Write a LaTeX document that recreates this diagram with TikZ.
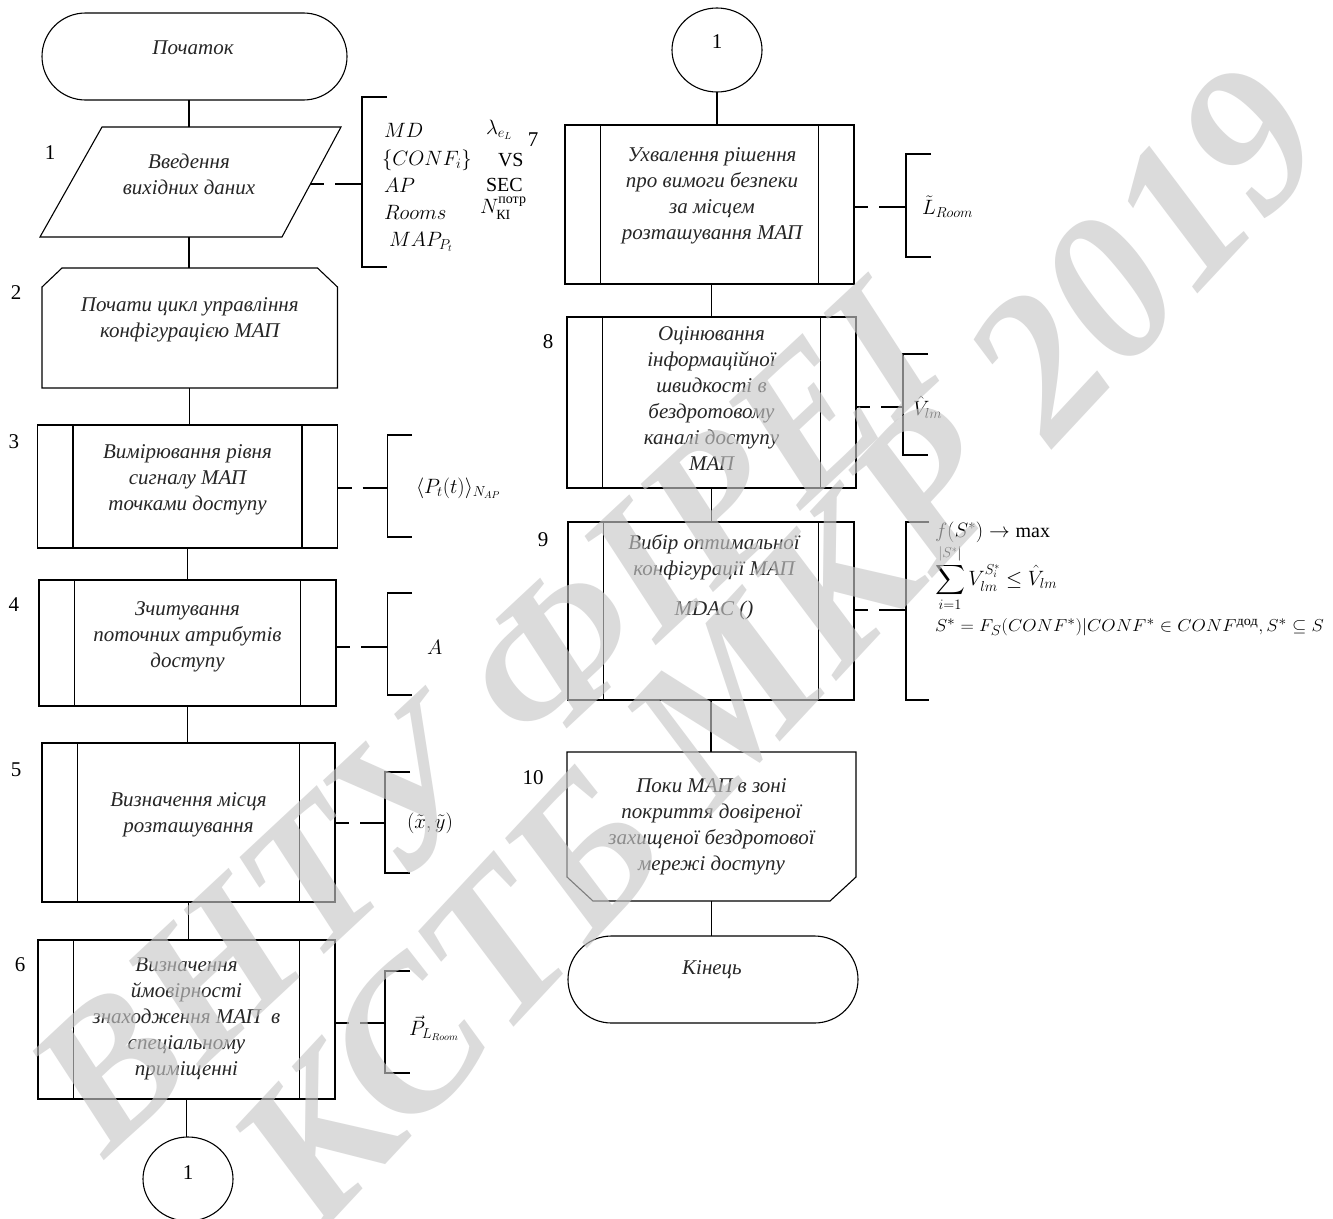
\documentclass[tikz,border=0pt]{standalone}
\usepackage{amsmath}
\usepackage{fontspec}
\setmainfont{Liberation Serif}
\usetikzlibrary{calc,shapes.geometric}

\begin{document}
\begin{tikzpicture}[x=1pt,y=-1pt,line width=1.1pt,
  every node/.style={inner sep=0pt,outer sep=0pt},
  blocktext/.style={font=\fontsize{21}{26}\selectfont\itshape,align=center,text=black!85},
  num/.style={font=\fontsize{21}{26}\selectfont},
  note/.style={font=\fontsize{20}{24}\selectfont,anchor=west},
  term/.style={draw,rectangle,rounded corners=43.5pt,minimum height=87pt},
  procbox/.style={draw,rectangle,path picture={
      \draw ([xshift=35.5pt]path picture bounding box.north west) -- ([xshift=35.5pt]path picture bounding box.south west);
      \draw ([xshift=-35.5pt]path picture bounding box.north east) -- ([xshift=-35.5pt]path picture bounding box.south east);}},
  conn/.style={draw,ellipse,minimum width=90pt,minimum height=84pt,font=\fontsize{21}{26}\selectfont},
  dashlink/.style={dash pattern=on 14pt off 11pt on 80pt},
  watermark/.style={font=\fontsize{#1}{#1}\selectfont\bfseries\itshape,text=black!22,text opacity=0.64}]

\useasboundingbox (0,0) rectangle (1333,1218);
\fill[white] (0,0) rectangle (1333,1218);

% ---------- left column ----------
\node[term,minimum width=305pt] (start) at (194.5,56.5) {};
\node[blocktext] (startT) at (193,48) {Початок};

% input data (parallelogram)
\coordinate (p1nw) at (102,127);
\coordinate (p1ne) at (341,127);
\coordinate (p1se) at (282,237);
\coordinate (p1sw) at (40,237);
\draw (p1nw) -- (p1ne) -- (p1se) -- (p1sw) -- cycle;
\coordinate (p1top) at (189,127);
\coordinate (p1bot) at (189,237);
\coordinate (p1east) at (310.4,184);
\node[blocktext] (p1) at (189,174) {Введення\\вихідних даних};

% loop start
\node[minimum width=295.5pt,minimum height=120pt] (b2) at (189.75,328) {};
\draw (b2.south west) -- ($(b2.north west)+(0,19)$) -- ($(b2.north west)+(20,0)$)
  -- ($(b2.north east)+(-20,0)$) -- ($(b2.north east)+(0,19)$) -- (b2.south east) -- cycle;
\node[blocktext] (b2T) at (189.75,320) {Почати цикл управління\\конфігурацією МАП};

\node[procbox,minimum width=300pt,minimum height=123pt] (b3) at (187.5,486.5) {};
\node[blocktext] (b3T) at (187.5,479.5) {Вимірювання рівня\\сигналу МАП\\точками доступу};

\node[procbox,minimum width=297pt,minimum height=126pt] (b4) at (187.5,643) {};
\node[blocktext] (b4T) at (187.5,637) {Зчитування\\поточних атрибутів\\доступу};

\node[procbox,minimum width=293pt,minimum height=159pt] (b5) at (188.5,822.5) {};
\node[blocktext] (b5T) at (188.5,814.5) {Визначення місця\\розташування};

\node[procbox,minimum width=297pt,minimum height=159pt] (b6) at (186.5,1019.5) {};
\node[blocktext] (b6T) at (186.5,1018.5) {Визначення\\ймовірності\\знаходження МАП~ в\\спеціальному\\приміщенні};

\node[conn] (c1) at (188,1179) {};
\node[num] (c1T) at (188,1173) {1};

% ---------- right column ----------
\node[conn] (c2) at (717,50) {};
\node[num] (c2T) at (717,42) {1};

\node[procbox,minimum width=289pt,minimum height=159pt] (b7) at (709.5,204.5) {};
\node[blocktext] (b7T) at (712,195.5) {Ухвалення рішення\\про вимоги безпеки\\за місцем\\розташування МАП};

\node[procbox,minimum width=289pt,minimum height=171pt] (b8) at (711.5,402.5) {};
\node[blocktext] (b8T) at (711.5,398.5) {Оцінювання\\інформаційної\\швидкості в\\бездротовому\\каналі доступу\\МАП};

\node[procbox,minimum width=286pt,minimum height=178pt] (b9) at (711,611) {};
\node[blocktext] (b9T) at (714,577) {Вибір оптимальної\\конфігурації МАП\\[14pt]MDAC ()};

% loop end
\node[minimum width=289pt,minimum height=149pt] (b10) at (711.5,826.5) {};
\draw (b10.north west) -- (b10.north east) -- ($(b10.south east)+(0,-24)$) -- ($(b10.south east)+(-26,0)$)
  -- ($(b10.south west)+(26,0)$) -- ($(b10.south west)+(0,-24)$) -- cycle;
\node[blocktext] (b10T) at (711.5,827) {Поки МАП в зоні\\покриття довіреної\\захищеної бездротової\\мережі доступу};

\node[term,minimum width=290pt] (end) at (713,979.5) {};
\node[blocktext] (endT) at (712,970) {Кінець};

% ---------- flow lines ----------
\draw (p1top) -- (p1top |- start.south);
\draw (p1bot) -- (p1bot |- b2.north);
\draw (b2.south) -- (b2.south |- b3.north);
\draw (b3.south) -- (b3.south |- b4.north);
\draw (b4.south) -- (b4.south |- b5.north);
\draw (b5.south) -- (b5.south |- b6.north);
\draw (c1.north -| b6.south) -- (b6.south);
\draw (c2.south) -- (c2.south |- b7.north);
\draw (b7.south -| b8.north) -- (b8.north);
\draw (b8.south) -- (b8.south |- b9.north);
\draw (b9.south) -- (b9.south |- b10.north);
\draw (b10.south) -- (b10.south |- end.north);

% ---------- annotations ----------
\coordinate (k1) at (362,184);
\coordinate (k3) at (387.5,488);
\coordinate (k4) at (387.5,647);
\coordinate (k5) at (385,823);
\coordinate (k6) at (385,1023);
\coordinate (k7) at (906,207);
\coordinate (k8) at (903,407);
\coordinate (k9) at (906,610);

\draw[dashlink] (p1east) -- (k1);
\draw[dashlink] (b3.east |- k3) -- (k3);
\draw[dashlink] (b4.east |- k4) -- (k4);
\draw[dashlink] (b5.east |- k5) -- (k5);
\draw[dashlink] (b6.east |- k6) -- (k6);
\draw[dashlink] (b7.east |- k7) -- (k7);
\draw[dashlink] (b8.east |- k8) -- (k8);
\draw[dashlink] (b9.east |- k9) -- (k9);

\draw (387,97) -| (k1) |- (387,267);
\draw (412,435) -| (k3) |- (412,537);
\draw (412,593) -| (k4) |- (412,695);
\draw (410,772) -| (k5) |- (410,873);
\draw (410,971) -| (k6) |- (410,1073);
\draw (931,154) -| (k7) |- (931,257);
\draw (928,354) -| (k8) |- (928,455);
\draw (929,522) -| (k9) |- (929,700);

\node[note] (aMD) at (384,130) {$MD$};
\node[note] (aLam) at (486,130) {$\lambda_{e_L}$};
\node[note] (aConf) at (382,160) {$\{CONF_i\}$};
\node[note] (aVS) at (498,160) {VS};
\node[note] (aAP) at (384,185) {$AP$};
\node[note] (aSEC) at (486,185) {SEC};
\node[note] (aRooms) at (384,212) {$Rooms$};
\node[note] (aN) at (480,208) {$N_{\text{КІ}}^{\text{потр}}$};
\node[note] (aMAP) at (389,242) {$MAP_{P_t}$};

\node[note] (a3) at (416,488) {$\langle P_t(t)\rangle_{N_{AP}}$};
\node[note] (a4) at (427,647) {$A$};
\node[note] (a5) at (407,823) {$(\tilde{x},\tilde{y})$};
\node[note] (a6) at (409,1028) {$\vec{P}_{L_{Room}}$};
\node[note] (a7) at (922,207) {$\tilde{L}_{Room}$};
\node[note] (a8) at (913,407) {$\hat{V}_{lm}$};

\node[note] (f1) at (935,532) {$f(S^*)\to\max$};
\node[note] (f2) at (935,578) {$\displaystyle\sum_{i=1}^{|S^*|} V_{lm}^{S_i^*}\le\hat{V}_{lm}$};
\node[note,font=\fontsize{19}{23}\selectfont] (f3) at (935,627)
  {\scalebox{1.07}[1]{$S^*=F_S(CONF^*)|CONF^*\in CONF^{\text{дод}},S^*\subseteq S$}};

% ---------- step numbers ----------
\node[num] (n1) at (50,153) {1};
\node[num] (n2) at (16,293) {2};
\node[num] (n3) at (14,442) {3};
\node[num] (n4) at (14,605) {4};
\node[num] (n5) at (16,770) {5};
\node[num] (n6) at (20,965) {6};
\node[num] (n7) at (533,140) {7};
\node[num] (n8) at (548,342) {8};
\node[num] (n9) at (543,540) {9};
\node[num] (n10) at (533,778) {10};

% stamp laid over the sheet
\node[watermark=196,rotate=43] (wmA) at (486,718) {ВНТУ ФІРЕІ};
\node[watermark=206,rotate=47] (wmB) at (778,645) {КСТБ МКР 2019};

\end{tikzpicture}
\end{document}
